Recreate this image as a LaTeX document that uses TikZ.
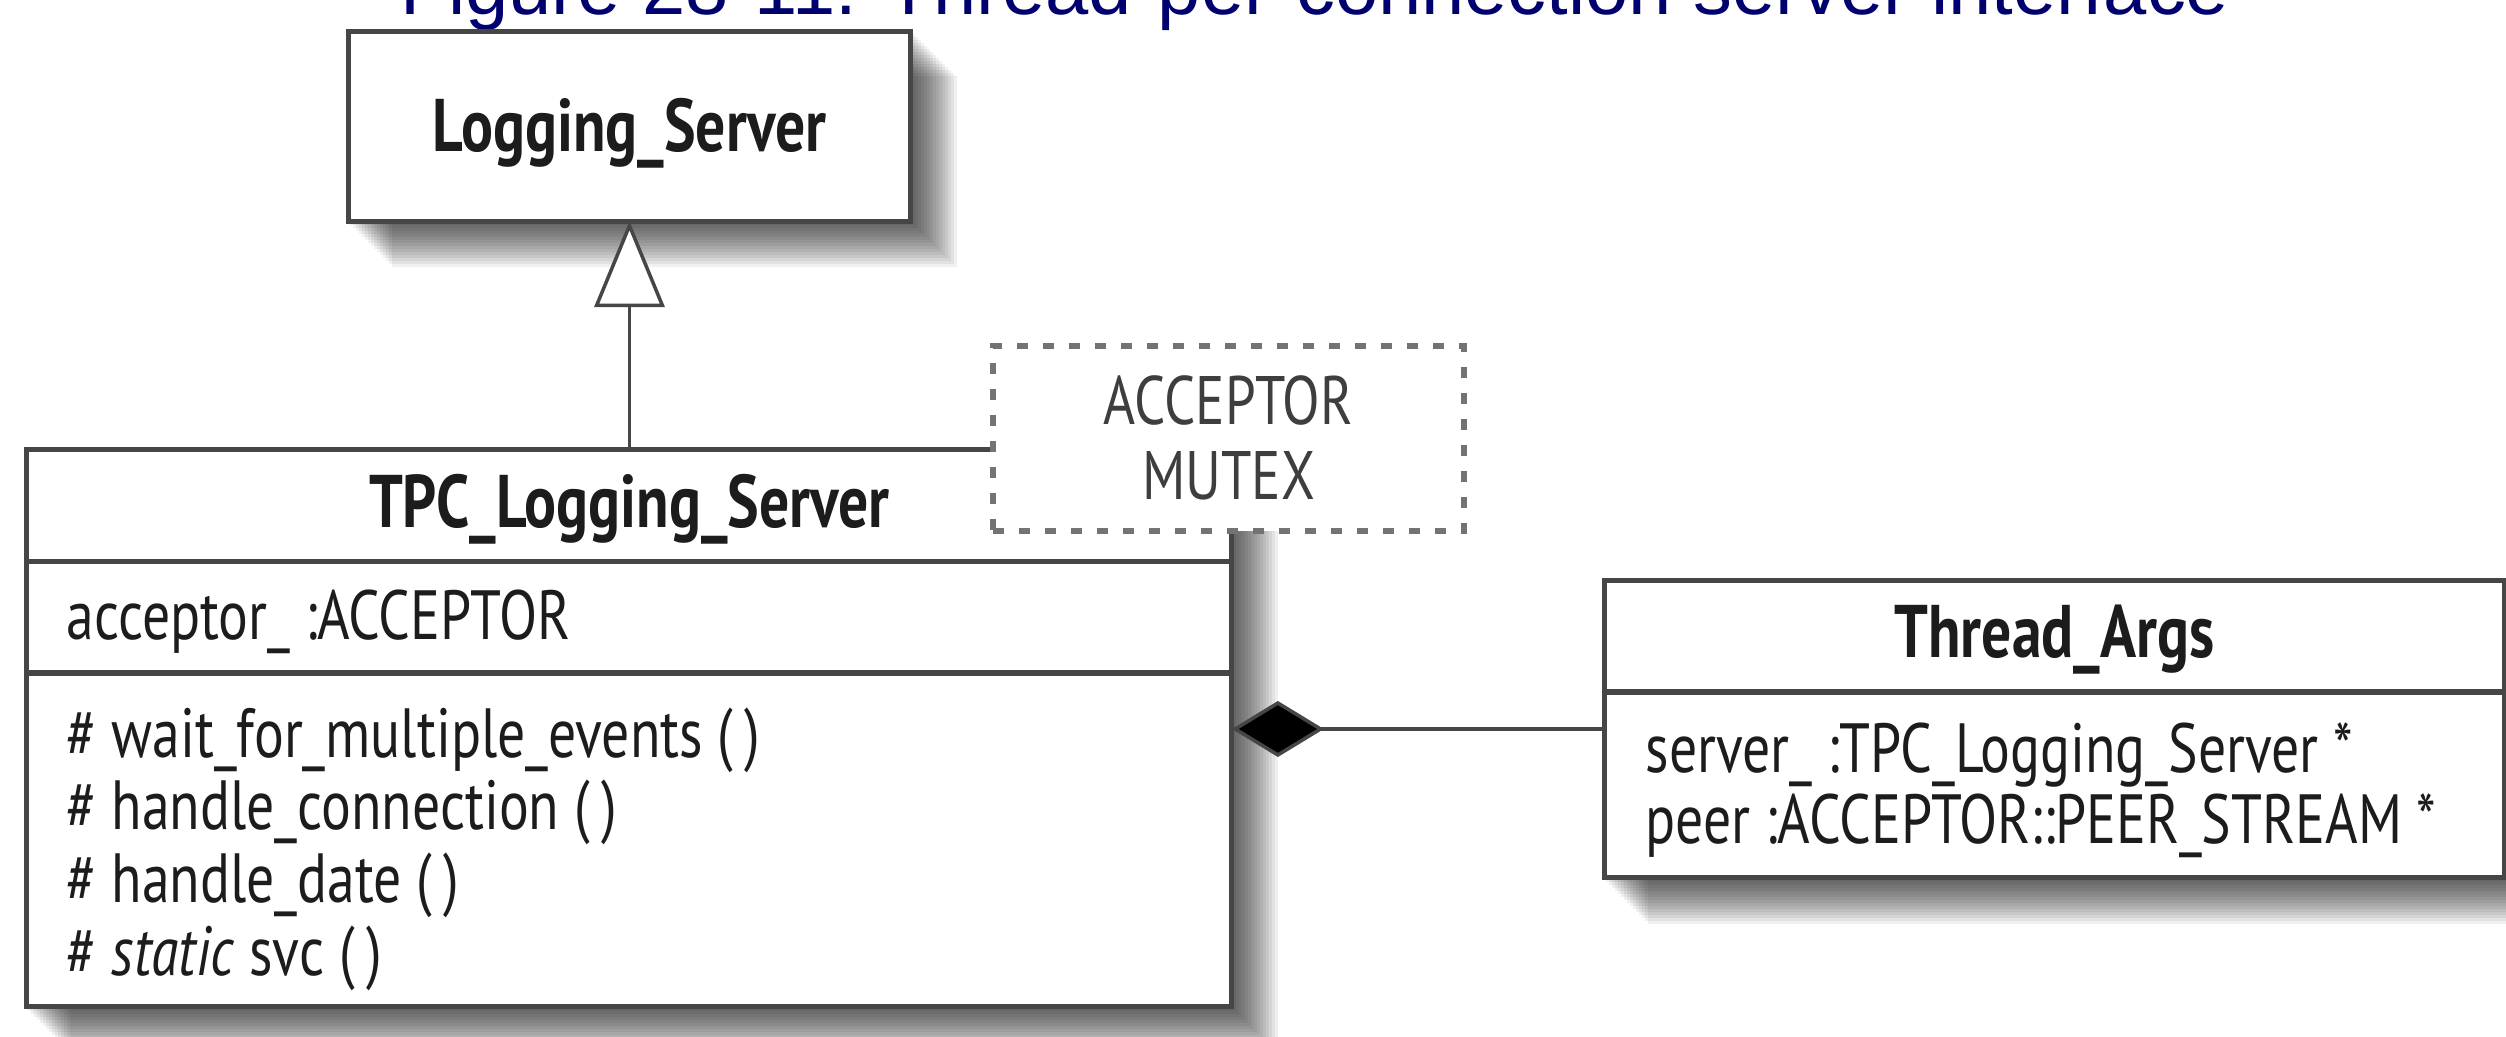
\documentclass[tikz,border=0pt]{standalone}
\usepackage{fontspec}
\usetikzlibrary{arrows.meta}
\newfontfamily\titlefont{Liberation Sans}
\newfontfamily\umlfont[FakeStretch=0.8]{PT Sans}
\definecolor{navy}{RGB}{0,0,110}
\definecolor{linecol}{RGB}{70,70,70}
\definecolor{txtcol}{RGB}{28,28,28}
\definecolor{dashcol}{RGB}{115,115,115}
\tikzset{
  umlbox/.style={draw=linecol, line width=0.05cm, fill=white, inner sep=0pt, outer sep=0pt},
  dashbox/.style={draw=dashcol, line width=0.055cm, fill=white, dash pattern=on 0.11cm off 0.15cm, inner sep=0pt, outer sep=0pt},
  sepline/.style={draw=linecol, line width=0.05cm},
  conn/.style={draw=linecol, line width=0.035cm},
  clsname/.style={font={\umlfont\bfseries\fontsize{21.2pt}{25pt}\selectfont}, text=txtcol, inner sep=0pt, anchor=base},
  member/.style={font={\umlfont\fontsize{19.8pt}{23pt}\selectfont}, text=txtcol, inner sep=0pt, anchor=base west},
  notetext/.style={font={\umlfont\fontsize{19.5pt}{23pt}\selectfont}, text=txtcol!85, inner sep=0pt, anchor=base},
  shadowfill/.style={fill=black, fill opacity=0.058},
  titletext/.style={font={\titlefont\fontsize{22.1pt}{26pt}\selectfont}, text=navy, inner sep=0pt, anchor=base west},
}
\newcommand\dshadow[4]{\foreach \s in {3,6,...,45}{\fill[shadowfill] (#1+\s,#2+\s) rectangle (#3+\s,#4+\s);}}
\begin{document}
\begin{tikzpicture}[x=0.01cm, y=-0.01cm]
\useasboundingbox (0,0) rectangle (2506,1037);
\clip (0,0) rectangle (2506,1037);
% title
\node[titletext] (title) at (400,15) {Figure 28-11. Thread-per-connection server interface};
% shadows
\dshadow{347}{31}{912}{222}
\dshadow{25}{448}{1233}{1008}
\dshadow{1603}{579}{2506}{879}
% boxes
\node[umlbox, minimum width=5.61cm, minimum height=1.89cm] (ls) at (629.5,126.5) {};
\node[umlbox, minimum width=12.05cm, minimum height=5.57cm] (tpc) at (629,728) {};
\node[umlbox, minimum width=8.99cm, minimum height=2.97cm] (ta) at (2054.5,729) {};
\coordinate (s1) at (0,562);
\coordinate (s2) at (0,673);
\coordinate (s3) at (0,692);
\draw[sepline] (tpc.west |- s1) -- (tpc.east |- s1);
\draw[sepline] (tpc.west |- s2) -- (tpc.east |- s2);
\draw[sepline] (ta.west |- s3) -- (ta.east |- s3);
% texts
\node[clsname] (lsname) at (629.5,152) {Logging\_Server};
\node[clsname] (tpcname) at (629.5,528) {TPC\_Logging\_Server};
\node[member] (acc) at (66,640) {acceptor\_ :ACCEPTOR};
\node[member] (m1) at (66,758) {\# wait\_for\_multiple\_events (\,)};
\node[member] (m2) at (66,830) {\# handle\_connection (\,)};
\node[member] (m3) at (66,902) {\# handle\_date (\,)};
\node[member] (m4) at (66,975) {\# \textit{static} svc (\,)};
\node[clsname] (taname) at (2054.5,658) {Thread\_Args};
\node[member] (tas) at (1645,772) {server\_ :TPC\_Logging\_Server *};
\node[member] (tap) at (1645,843) {peer :ACCEPTOR::PEER\_STREAM *};
% connectors
\draw[conn, -{Triangle[length=0.86cm, width=0.70cm, fill=white]}] (tpc.north -| ls.south) -- (ls.south);
\draw[conn, {Diamond[length=0.92cm, width=0.56cm, fill=black]}-] (ta.west -| tpc.east) -- (ta.west);
% template parameter box
\node[dashbox, minimum width=4.71cm, minimum height=1.85cm] (tmpl) at (1228.5,438.5) {};
\node[notetext] (tmpl1) at (1228.5,425) {ACCEPTOR};
\node[notetext] (tmpl2) at (1228.5,500) {MUTEX};
\end{tikzpicture}
\end{document}
